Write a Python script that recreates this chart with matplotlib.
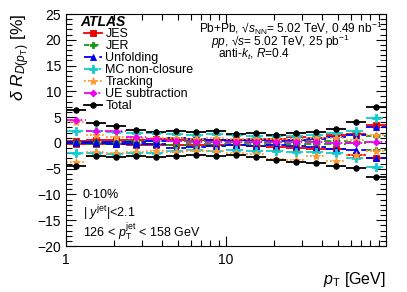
import numpy as np
import matplotlib
matplotlib.use("Agg")
import matplotlib.pyplot as plt
from matplotlib.lines import Line2D
from matplotlib.ticker import MultipleLocator, FixedLocator, NullFormatter, LogLocator

plt.rcParams['font.family'] = ['Liberation Sans', 'DejaVu Sans']
plt.rcParams['mathtext.fontset'] = 'custom'
plt.rcParams['mathtext.rm'] = 'Liberation Sans'
plt.rcParams['mathtext.it'] = 'Liberation Sans:italic'
plt.rcParams['mathtext.bf'] = 'Liberation Sans:bold'

# ---- data ----
bin_edges = [1.0, 1.334, 1.778, 2.371, 3.162, 4.217, 5.623, 7.499, 10.0,
             13.34, 17.78, 23.71, 31.62, 42.17, 56.23, 74.99, 100.0]

jes_up = [0.3, 0.5, 0.5, 0.6, 0.7, 0.6, 0.5, 0.5, 0.6, 0.7, 0.8, 1.2, 1.0, 1.5, 1.7, 3.4]
jes_dn = [-0.2, -0.2, -0.3, -0.4, -0.4, -0.4, -0.4, -0.5, -0.5, -0.6, -0.8, -1.0, -1.2, -1.2, -2.3, -3.0]
jer_up = [0.1, 0.2, 0.2, 0.3, 0.3, 0.4, 0.3, 0.3, 0.2, 0.2, 0.2, 0.3, 0.3, 0.3, 0.1, 1.4]
jer_dn = [-0.1, -0.2, -0.2, -0.3, -0.3, -0.4, -0.3, -0.3, -0.2, -0.2, -0.2, -0.3, -0.3, -0.3, -0.1, -1.4]
unf_up = [0.1, 0.1, 0.2, 0.2, 0.3, 0.9, 0.8, 0.6, 0.5, 0.5, 0.4, 0.6, 0.8, 1.1, 1.6, 3.1]
unf_dn = [-0.1, -0.1, -0.2, -0.3, -0.2, -0.9, -0.8, -0.6, -0.5, -0.6, -0.5, -0.6, -0.8, -1.1, -1.4, -3.0]
mc_up = [2.4, 2.3, 2.1, 2.0, 1.9, 1.8, 1.6, 1.7, 1.5, 1.4, 1.3, 1.4, 1.6, 2.0, 2.3, 4.8]
mc_dn = [-2.0, -2.0, -2.2, -1.9, -1.9, -1.6, -1.4, -1.5, -1.3, -1.5, -1.6, -1.8, -1.8, -2.0, -3.0, -4.6]
trk_up = [4.1, 1.6, 1.2, 1.0, 0.9, 0.9, 0.8, 0.9, 0.8, 0.8, 0.7, 0.8, 0.9, 0.9, 0.6, 1.6]
trk_dn = [-3.8, -1.7, -2.0, -1.7, -1.6, -1.7, -1.5, -1.6, -2.0, -2.2, -3.2, -3.3, -2.6, -3.5, -2.3, -1.6]
ue = [4.5, 2.4, 2.3, 1.2, 0.7, 0.3, 0.2, 0.1, 0.1, 0.2, 0.1, 0.1, 0.1, 0.0, 0.0, 0.1]
tot_up = [6.4, 3.9, 3.3, 2.5, 2.1, 2.3, 2.1, 2.3, 1.8, 1.9, 1.6, 1.9, 2.1, 2.7, 4.0, 6.9]
tot_dn = [-4.5, -2.6, -2.7, -2.6, -2.7, -2.6, -2.4, -2.5, -2.3, -2.7, -3.4, -3.7, -3.9, -4.4, -4.8, -6.6]

labels = ["JES", "JER", "Unfolding", "MC non-closure", "Tracking", "UE subtraction", "Total"]

edges = np.array(bin_edges)
lo = edges[:-1]
hi = edges[1:]
ctr = np.sqrt(lo * hi)

fig = plt.figure(figsize=(4.07, 2.92), dpi=100)
ax = fig.add_axes([66/407, 46/292, 320/407, 232/292])

styles = [
    dict(color='#ee0000', ls='-', marker='s', ms=4.5, series=[jes_up, jes_dn]),
    dict(color='#119911', ls=(0, (3, 2)), marker='P', ms=5, series=[jer_up, jer_dn]),
    dict(color='#0000ee', ls=(0, (6, 2.5)), marker='^', ms=5, series=[unf_up, unf_dn]),
    dict(color='#11cccc', ls=(0, (6, 2, 1.5, 2)), marker='P', ms=5.5, series=[mc_up, mc_dn]),
    dict(color='#ff9933', ls=(0, (1, 1.2)), marker='*', ms=6, series=[trk_up, trk_dn]),
    dict(color='#ee00ee', ls=(0, (4, 1.5, 1, 1.5, 1, 1.5)), marker='D', ms=3.5, series=[ue]),
    dict(color='black', ls='-', marker='o', ms=4, series=[tot_up, tot_dn]),
]

handles = []
for st, lab in zip(styles, labels):
    for s in st['series']:
        ax.hlines(s, lo, hi, colors=st['color'], linestyles=[st['ls']], linewidth=1.3, zorder=2)
        ax.plot(ctr, s, linestyle='none', marker=st['marker'], color=st['color'],
                markersize=st['ms'], markeredgewidth=0.6, zorder=3)
    handles.append(Line2D([], [], color=st['color'], ls=st['ls'], lw=1.3,
                          marker=st['marker'], markersize=st['ms'], markeredgewidth=0.6))

ax.set_xscale('log')
ax.set_xlim(1, 100)
ax.set_ylim(-20, 25)
ax.yaxis.set_major_locator(MultipleLocator(5))
ax.yaxis.set_minor_locator(MultipleLocator(1))
ax.xaxis.set_major_locator(FixedLocator([1, 10, 100]))
ax.xaxis.set_minor_locator(LogLocator(base=10, subs=np.arange(2, 10)))
ax.xaxis.set_minor_formatter(NullFormatter())
ax.set_xticklabels(['1', '10', ''])
ax.tick_params(which='both', direction='in', top=True, right=True, labelsize=10)
ax.tick_params(which='major', length=7, width=0.8)
ax.tick_params(which='minor', length=4, width=0.8)
ax.tick_params(axis='x', pad=5)
for sp in ax.spines.values():
    sp.set_linewidth(0.8)

ax.set_ylabel(r'$\delta\ R_{D(p_{\rm T})}$ [%]', fontsize=12.5, loc='top', labelpad=4)
ax.set_xlabel(r'$p_{\rm T}$ [GeV]', fontsize=11.5, loc='right', labelpad=2)

ax.text(0.045, 0.966, 'ATLAS', transform=ax.transAxes, fontsize=10, fontweight='bold',
        fontstyle='italic', va='center', ha='left')
leg = ax.legend(handles, labels, loc='upper left', bbox_to_anchor=(0.055, 0.94), frameon=False,
                fontsize=9, handlelength=1.45, handletextpad=0.3, labelspacing=0.0,
                borderpad=0, borderaxespad=0)

ax.text(0.99, 0.92, 'Pb+Pb, \u221a$s_{\\rm NN}$= 5.02 TeV, 0.49 nb$^{-1}$', transform=ax.transAxes,
        fontsize=8.6, ha='right', va='baseline')
ax.text(0.453, 0.864, '$pp$, \u221a$s$= 5.02 TeV, 25 pb$^{-1}$', transform=ax.transAxes,
        fontsize=8.6, ha='left', va='baseline')
ax.text(0.475, 0.81, r'anti-$k_t$, $R$=0.4', transform=ax.transAxes,
        fontsize=8.6, ha='left', va='baseline')

ax.text(0.053, 0.22, '0-10%', transform=ax.transAxes, fontsize=9, ha='left', va='center')
ax.text(0.053, 0.142, r'| $y^{\rm jet}$|<2.1', transform=ax.transAxes, fontsize=9, ha='left', va='center')
ax.text(0.053, 0.06, r'126 < $p_{\rm T}^{\rm jet}$ < 158 GeV', transform=ax.transAxes, fontsize=9,
        ha='left', va='center')

fig.savefig('out.png', dpi=100)
